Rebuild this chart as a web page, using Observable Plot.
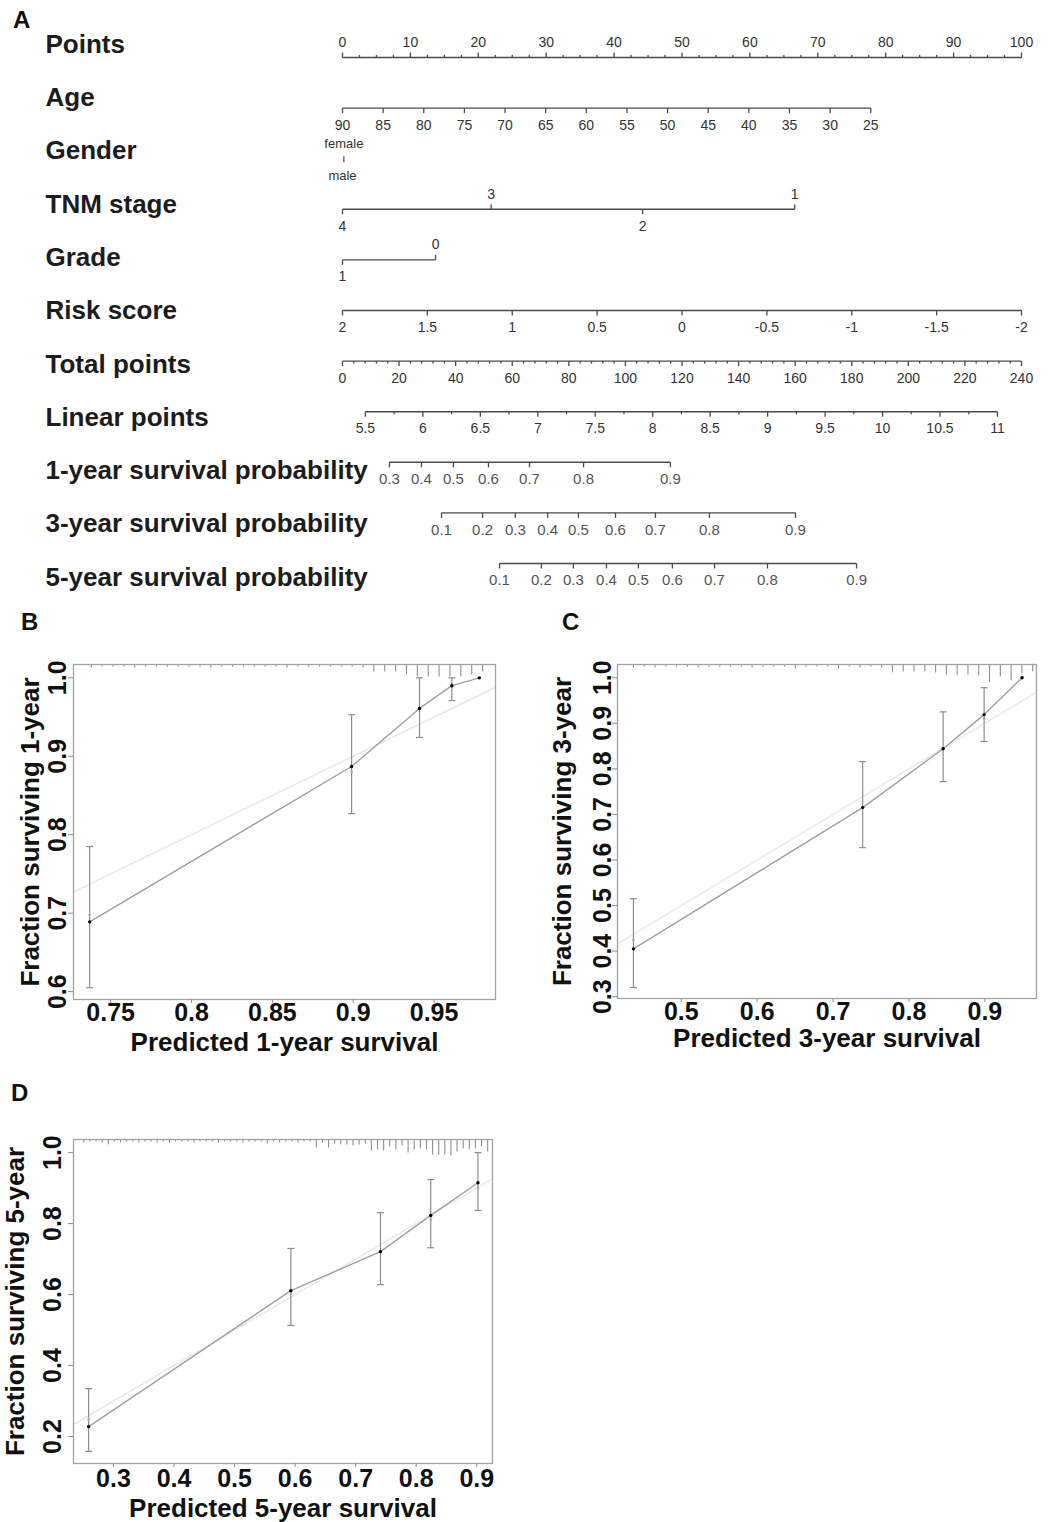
<!DOCTYPE html>
<html>
<head>
<meta charset="utf-8">
<script src="https://cdn.jsdelivr.net/npm/d3@7"></script>
<script src="https://cdn.jsdelivr.net/npm/@observablehq/plot@0.6"></script>
<style>
  body { margin: 0; background: #fff; }
  #wrap { position: relative; width: 1048px; height: 1522px; overflow: hidden; background: #fff;
          font-family: "Liberation Sans", Arial, sans-serif; }
  .panel { position: absolute; }
  .letter { position: absolute; z-index: 5; font-weight: bold; font-size: 24px; line-height: 24px; color: #111; }
</style>
</head>
<body>
<div id="wrap">
  <div class="panel" id="nomo" style="left:0;top:0"></div>
  <div class="panel" id="pb" style="left:0;top:600px"></div>
  <div class="panel" id="pc" style="left:524px;top:600px"></div>
  <div class="panel" id="pd" style="left:0;top:1080px"></div>
  <div class="letter" style="left:13px;top:8px">A</div>
  <div class="letter" style="left:21px;top:610px">B</div>
  <div class="letter" style="left:562px;top:610px">C</div>
  <div class="letter" style="left:11px;top:1081px">D</div>
</div>
<script>
// ---------------- Nomogram data ----------------
const rowLabels = ["Points", "Age", "Gender", "TNM stage", "Grade", "Risk score", "Total points",
  "Linear points", "1-year survival probability", "3-year survival probability", "5-year survival probability"];

const pointsTicks = [0, 10, 20, 30, 40, 50, 60, 70, 80, 90, 100];
const ageTicks = [90, 85, 80, 75, 70, 65, 60, 55, 50, 45, 40, 35, 30, 25];
const agePointsAt25 = 77.8;              // points given to age 25 (age 90 = 0)
const genderLevels = ["female", "male"];
const genderPoints = [0.2, 0];
const tnmLevels = ["4", "3", "2", "1"];
const tnmPoints = [0, 21.9, 44.2, 66.6];
const gradeLevels = ["1", "0"];
const gradePoints = [0, 13.7];
const riskTicks = [2, 1.5, 1, 0.5, 0, -0.5, -1, -1.5, -2];   // 2 -> 0 points, -2 -> 100 points
const totalTicks = [0, 20, 40, 60, 80, 100, 120, 140, 160, 180, 200, 220, 240];
const linearTicks = [5.5, 6, 6.5, 7, 7.5, 8, 8.5, 9, 9.5, 10, 10.5, 11];
const linearTotalAt55 = 8.1, linearTotalAt11 = 231.5;      // total points where linear predictor = 5.5 / 11
const surv1Probs = [0.3, 0.4, 0.5, 0.6, 0.7, 0.8, 0.9];
const surv1Total = [16.6, 27.9, 39.2, 51.6, 66.1, 85.2, 115.9];
const surv3Probs = [0.1, 0.2, 0.3, 0.4, 0.5, 0.6, 0.7, 0.8, 0.9];
const surv3Total = [35.0, 49.5, 61.1, 72.5, 83.4, 96.5, 110.6, 129.7, 160.1];
const surv5Probs = [0.1, 0.2, 0.3, 0.4, 0.5, 0.6, 0.7, 0.8, 0.9];
const surv5Total = [55.5, 70.3, 81.6, 93.3, 104.6, 116.6, 131.5, 150.2, 181.7];

// ---------------- Calibration data ----------------
const b_pred = [0.737, 0.899, 0.941, 0.961, 0.978];
const b_obs  = [0.689, 0.887, 0.961, 0.990, 1.000];
const b_lo   = [0.605, 0.827, 0.924, 0.971, null];
const b_hi   = [0.785, 0.953, 1.000, 1.000, null];
const b_alt  = [0.698, 0.880, null, null, null];
const b_rug  = [2,1,1,1,2,1,1,1,1,1,1,2,1,1,1,1,1,1,2,1,1,1,1,1,1,2,6,6,6,9,11,11,11,11,11,9,6];
const b_rugRange = [0.738, 0.980];

const c_pred = [0.437, 0.739, 0.845, 0.899, 0.949];
const c_obs  = [0.405, 0.715, 0.844, 0.919, 1.000];
const c_lo   = [0.320, 0.627, 0.772, 0.860, null];
const c_hi   = [0.515, 0.816, 0.925, 0.978, null];
const c_alt  = [0.425, null, null, 0.910, null];
const c_rug  = [2,1,2,1,1,1,2,1,1,1,1,2,1,1,1,3,1,1,1,3,1,2,1,2,7,6,6,6,7,9,9,9,10,16,11,15,8,6];
const c_rugRange = [0.437, 0.963];

const d_pred = [0.259, 0.593, 0.741, 0.824, 0.902];
const d_obs  = [0.228, 0.611, 0.721, 0.823, 0.915];
const d_lo   = [0.158, 0.513, 0.628, 0.732, 0.837];
const d_hi   = [0.335, 0.730, 0.831, 0.924, 1.000];
const d_alt  = [0.248, null, null, 0.811, 0.899];
const d_rug  = [2,1,1,2,4,1,2,1,1,2,1,1,2,1,2,1,1,1,2,1,1,1,2,1,1,1,2,1,1,1,3,1,2,1,1,2,1,1,
                7,2,7,3,4,4,5,4,3,10,9,10,6,9,5,12,9,8,9,14,14,14,15,11,8,9,8,6,11];
const d_rugRange = [0.251, 0.918];

// ---------------- Nomogram build ----------------
const FONT = '"Liberation Sans", Arial, Helvetica, sans-serif';
const toPts = {
  points: v => v,
  age: v => (90 - v) / (90 - 25) * agePointsAt25,
  risk: v => (2 - v) / 4 * 100,
  total: v => v * 100 / 240,
  linear: v => (linearTotalAt55 + (v - 5.5) * (linearTotalAt11 - linearTotalAt55) / 5.5) * 100 / 240
};

const lines = [];
const ticks = [];
function axisRow(row, items, big) {
  const ps = items.map(d => d.p);
  lines.push({row, p1: d3.min(ps), p2: d3.max(ps)});
  items.forEach(d => ticks.push({row, big: !!big, major: true, ...d}));
}
function minorRow(row, ps, side) { ps.forEach(p => ticks.push({row, p, side, major: false, label: null})); }

axisRow(0, pointsTicks.map(v => ({p: toPts.points(v), label: String(v), side: "above"})));
minorRow(0, d3.range(0, 100.001, 2.5).filter(v => v % 10 !== 0).map(toPts.points), "above");
axisRow(1, ageTicks.map(v => ({p: toPts.age(v), label: String(v), side: "below"})));
axisRow(3, tnmLevels.map((l, i) => ({p: tnmPoints[i], label: l, side: i % 2 ? "above" : "below"})));
axisRow(4, gradeLevels.map((l, i) => ({p: gradePoints[i], label: l, side: i ? "above" : "below"})));
axisRow(5, riskTicks.map(v => ({p: toPts.risk(v), label: String(v), side: "below"})));
axisRow(6, totalTicks.map(v => ({p: toPts.total(v), label: String(v), side: "below"})));
minorRow(6, d3.range(0, 240.001, 4).filter(v => v % 20 !== 0).map(toPts.total), "below");
axisRow(7, linearTicks.map(v => ({p: toPts.linear(v), label: String(v), side: "below"})));
minorRow(7, d3.range(5.75, 11, 0.5).map(toPts.linear), "below");
axisRow(8, surv1Probs.map((v, i) => ({p: toPts.total(surv1Total[i]), label: String(v), side: "below"})), true);
axisRow(9, surv3Probs.map((v, i) => ({p: toPts.total(surv3Total[i]), label: String(v), side: "below"})), true);
axisRow(10, surv5Probs.map((v, i) => ({p: toPts.total(surv5Total[i]), label: String(v), side: "below"})), true);

const gender = genderLevels.map((l, i) => ({row: 2, p: genderPoints[i], label: l, side: i ? "below" : "above"}));

const yRange = [57, 563];
const rowPx = (yRange[1] - yRange[0]) / 10;
const majorLen = 5 / rowPx, minorLen = 2.5 / rowPx;
const lineCol = "#4a4a4a";

const nomo = Plot.plot({
  width: 1048, height: 600,
  marginLeft: 0, marginRight: 0, marginTop: 0, marginBottom: 0,
  x: {domain: [0, 100], range: [342, 1021], axis: null},
  y: {domain: [0, 10], range: yRange, axis: null},
  style: {fontFamily: FONT, background: "white", color: "#333"},
  marks: [
    Plot.link(lines, {x1: "p1", x2: "p2", y1: "row", y2: "row", stroke: lineCol, strokeWidth: 1.4}),
    Plot.link(ticks, {x1: "p", x2: "p", y1: "row",
      y2: d => d.row + (d.side === "above" ? -1 : 1) * (d.major ? majorLen : minorLen),
      stroke: lineCol, strokeWidth: 1.3}),
    Plot.link(gender.slice(0, 1), {x1: "p", x2: "p", y1: d => d.row - 0.05, y2: d => d.row + 0.07, stroke: lineCol, strokeWidth: 1.2}),
    Plot.text(ticks.filter(d => d.label != null && !d.big && d.side === "above"),
      {x: "p", y: "row", text: "label", dy: -15, fontSize: 14, fill: "#333"}),
    Plot.text(ticks.filter(d => d.label != null && !d.big && d.side === "below"),
      {x: "p", y: "row", text: "label", dy: 17, fontSize: 14, fill: "#333"}),
    Plot.text(ticks.filter(d => d.label != null && d.big),
      {x: "p", y: "row", text: "label", dy: 17, fontSize: 15, fill: "#555"}),
    Plot.text(gender.filter(d => d.side === "above"), {x: "p", y: "row", text: "label", dy: -15, fontSize: 13, fill: "#333"}),
    Plot.text(gender.filter(d => d.side === "below"), {x: "p", y: "row", text: "label", dy: 17, fontSize: 13, fill: "#333"}),
    Plot.text(rowLabels, {y: (d, i) => i * 1.053 - 0.257, text: d => d, frameAnchor: "left", dx: 45,
      textAnchor: "start", fontSize: 26, fontWeight: "bold", fill: "#1c1c1c"})
  ]
});
document.getElementById("nomo").append(nomo);

// ---------------- Calibration panels ----------------
const capSymbol = {
  draw(ctx, size) { const r = Math.sqrt(size / Math.PI); ctx.moveTo(-r, 0); ctx.lineTo(r, 0); }
};

function calib(cfg) {
  const pts = cfg.pred.map((x, i) => ({x, y: cfg.obs[i], lo: cfg.lo[i], hi: cfg.hi[i], alt: cfg.alt[i]}));
  const ci = pts.filter(d => d.lo != null);
  const plotH = cfg.height - cfg.mt - cfg.mb;
  const unitPerPx = (cfg.yDomain[1] - cfg.yDomain[0]) / plotH;
  const top = cfg.yDomain[1];
  const n = cfg.rug.length;
  const rug = cfg.rug.map((len, i) => ({x: cfg.rugRange[0] + i * (cfg.rugRange[1] - cfg.rugRange[0]) / (n - 1), len}));
  const diag = [cfg.xDomain[0], cfg.xDomain[1]];
  const grey = "#8d8d8d";
  return Plot.plot({
    width: cfg.width, height: cfg.height,
    marginLeft: cfg.ml, marginRight: cfg.mr, marginTop: cfg.mt, marginBottom: cfg.mb,
    x: {domain: cfg.xDomain},
    y: {domain: cfg.yDomain},
    style: {fontFamily: FONT, fontWeight: "bold", color: "#111", background: "white", overflow: "visible"},
    marks: [
      Plot.line(diag, {x: d => d, y: d => d, stroke: "#e9e9e9", strokeWidth: 1.6, clip: true}),
      Plot.ruleX(rug, {x: "x", y1: top, y2: d => top - (d.len + 1.5) * unitPerPx, stroke: "#8f8f8f", strokeWidth: 1.1}),
      Plot.ruleX(ci, {x: "x", y1: "lo", y2: "hi", stroke: grey, strokeWidth: 1.2}),
      Plot.dot(ci, {x: "x", y: "lo", symbol: capSymbol, r: 3.5, stroke: grey, fill: "none", strokeWidth: 1.2}),
      Plot.dot(ci, {x: "x", y: "hi", symbol: capSymbol, r: 3.5, stroke: grey, fill: "none", strokeWidth: 1.2}),
      Plot.line(pts, {x: "x", y: "y", stroke: "#a0a0a0", strokeWidth: 1.4}),
      Plot.dot(pts.filter(d => d.alt != null), {x: "x", y: "alt", r: 1.3, fill: "#a8a8a8", stroke: null}),
      Plot.dot(pts, {x: "x", y: "y", r: 1.7, fill: "#000", stroke: null}),
      Plot.frame({stroke: "#a2a2a2", strokeWidth: 1.3}),
      Plot.axisX({ticks: cfg.xTicks, tickFormat: d => String(d), tickSize: 4, tickPadding: cfg.xPad, fontSize: 25,
        stroke: grey, fill: "#111", label: null}),
      Plot.axisY({ticks: cfg.yTicks, tickFormat: d3.format(".1f"), tickSize: 5, tickPadding: cfg.yPad,
        tickRotate: -90, fontSize: 25, stroke: grey, fill: "#111", label: null}),
      Plot.text([cfg.xTitle], {text: d => d, frameAnchor: "bottom", lineAnchor: "middle", dy: cfg.xTitleDy,
        fontSize: 26, fill: "#111"}),
      Plot.text([cfg.yTitle], {text: d => d, frameAnchor: "left", textAnchor: "middle", lineAnchor: "middle",
        dx: cfg.yTitleDx, rotate: -90, fontSize: 26, fill: "#111"})
    ]
  });
}

document.getElementById("pb").append(calib({
  width: 524, height: 460, ml: 73, mr: 29, mt: 64, mb: 61,
  xDomain: [0.727, 0.988], yDomain: [0.590, 1.017],
  xTicks: [0.75, 0.8, 0.85, 0.9, 0.95], yTicks: [0.6, 0.7, 0.8, 0.9, 1.0], yPad: 3, xPad: 0,
  pred: b_pred, obs: b_obs, lo: b_lo, hi: b_hi, alt: b_alt, rug: b_rug, rugRange: b_rugRange,
  xTitle: "Predicted 1-year survival", yTitle: "Fraction surviving 1-year", xTitleDy: 43, yTitleDx: -43
}));

document.getElementById("pc").append(calib({
  width: 524, height: 460, ml: 93, mr: 12, mt: 64, mb: 62,
  xDomain: [0.416, 0.968], yDomain: [0.296, 1.029],
  xTicks: [0.5, 0.6, 0.7, 0.8, 0.9], yTicks: [0.3, 0.4, 0.5, 0.6, 0.7, 0.8, 0.9, 1.0], yPad: 2, xPad: 0,
  pred: c_pred, obs: c_obs, lo: c_lo, hi: c_hi, alt: c_alt, rug: c_rug, rugRange: c_rugRange,
  xTitle: "Predicted 3-year survival", yTitle: "Fraction surviving 3-year", xTitleDy: 40, yTitleDx: -55
}));

document.getElementById("pd").append(calib({
  width: 524, height: 442, ml: 73, mr: 32, mt: 59, mb: 59,
  xDomain: [0.234, 0.926], yDomain: [0.124, 1.037],
  xTicks: [0.3, 0.4, 0.5, 0.6, 0.7, 0.8, 0.9], yTicks: [0.2, 0.4, 0.6, 0.8, 1.0], yPad: 8, xPad: 2,
  pred: d_pred, obs: d_obs, lo: d_lo, hi: d_hi, alt: d_alt, rug: d_rug, rugRange: d_rugRange,
  xTitle: "Predicted 5-year survival", yTitle: "Fraction surviving 5-year", xTitleDy: 45, yTitleDx: -58
}));
</script>
</body>
</html>
